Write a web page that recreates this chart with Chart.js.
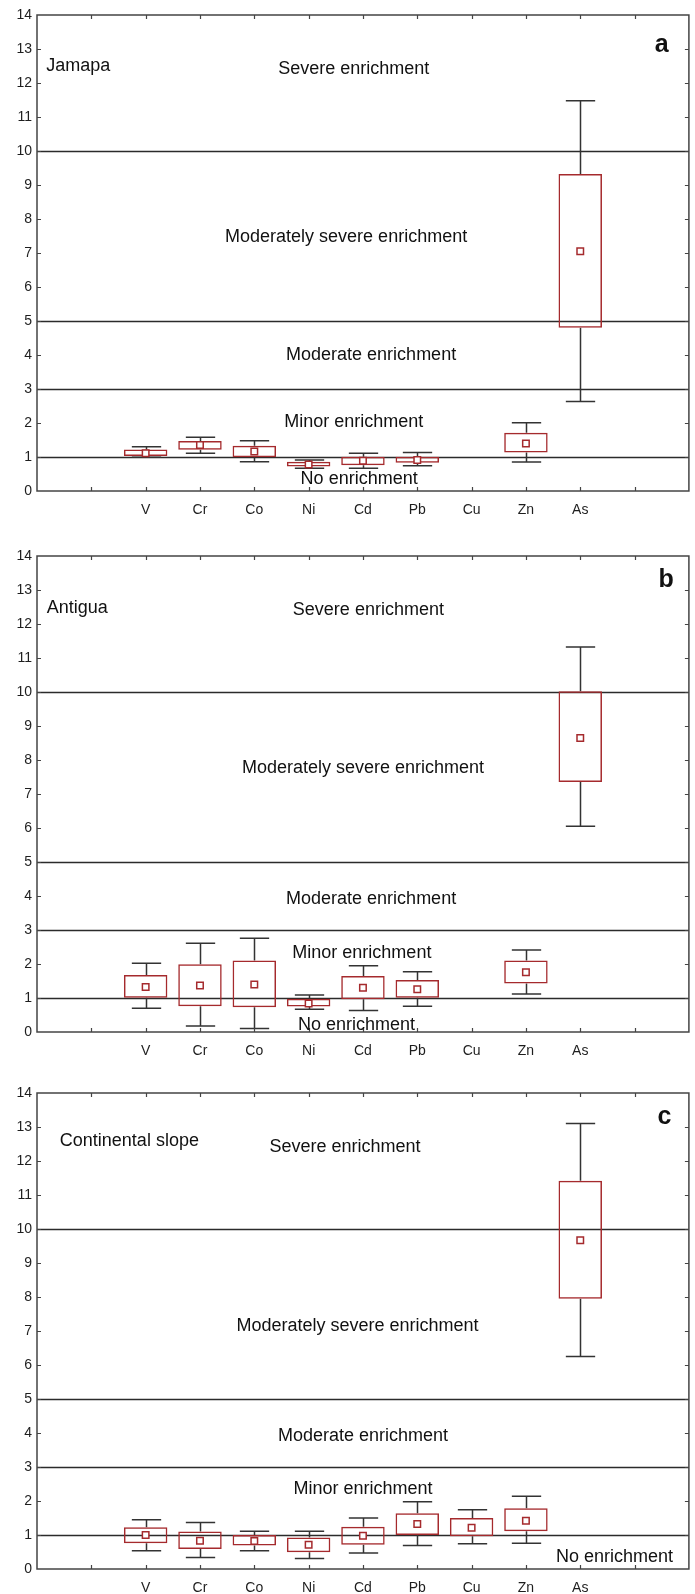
<!DOCTYPE html>
<html>
<head>
<meta charset="utf-8">
<script src="https://cdn.jsdelivr.net/npm/chart.js@4.4.1/dist/chart.umd.min.js"></script>
<style>
  html, body { margin: 0; padding: 0; background: #fff; }
  .panel { position: absolute; left: 0; width: 695px; }
  canvas { display: block; }
</style>
</head>
<body>
<div class="panel" style="top:0"><canvas id="chart-a" width="695" height="516"></canvas></div>
<div class="panel" style="top:541px"><canvas id="chart-b" width="695" height="516"></canvas></div>
<div class="panel" style="top:1078px"><canvas id="chart-c" width="695" height="516"></canvas></div>
<script>
/* enrichment factor box plots, three sites */

const ELEMENTS = ["V", "Cr", "Co", "Ni", "Cd", "Pb", "Cu", "Zn", "As"];
const ELEMENT_X = [2, 3, 4, 5, 6, 7, 8, 9, 10];
const ZONE_LIMITS = [1, 3, 5, 10];

// Jamapa
const jamapaMin  = [0.99, 1.11, 0.86, 0.67, 0.67, 0.74, null, 0.85, 2.63];
const jamapaQ1   = [1.03, 1.21, 0.99, 0.72, 0.76, 0.83, null, 1.13, 4.80];
const jamapaMean = [1.11, 1.35, 1.16, 0.78, 0.89, 0.91, null, 1.40, 7.05];
const jamapaQ3   = [1.22, 1.47, 1.33, 0.86, 1.01, 1.01, null, 1.71, 9.32];
const jamapaMax  = [1.30, 1.58, 1.48, 0.91, 1.11, 1.13, null, 2.01, 11.48];

// Antigua
const antiguaMin  = [0.70, 0.18, 0.10, 0.67, 0.63, 0.76, null, 1.12, 6.05];
const antiguaQ1   = [1.01, 0.76, 0.73, 0.75, 0.96, 1.01, null, 1.43, 7.35];
const antiguaMean = [1.32, 1.37, 1.40, 0.84, 1.30, 1.26, null, 1.76, 8.65];
const antiguaQ3   = [1.68, 1.99, 2.10, 0.98, 1.65, 1.53, null, 2.10, 10.02];
const antiguaMax  = [2.02, 2.61, 2.76, 1.09, 1.95, 1.77, null, 2.41, 11.32];

// Continental slope
const slopeMin  = [0.54, 0.34, 0.54, 0.31, 0.47, 0.69, 0.74, 0.76, 6.25];
const slopeQ1   = [0.76, 0.59, 0.69, 0.49, 0.71, 1.00, 0.96, 1.11, 7.95];
const slopeMean = [1.00, 0.83, 0.82, 0.71, 0.98, 1.32, 1.21, 1.42, 9.67];
const slopeQ3   = [1.23, 1.10, 1.00, 0.93, 1.24, 1.64, 1.50, 1.79, 11.42];
const slopeMax  = [1.45, 1.37, 1.11, 1.11, 1.50, 1.98, 1.74, 2.14, 13.10];

// zone captions: [text, x, y] in axis units
const jamapaNotes = [
  ["Severe enrichment", 5.83, 12.4],
  ["Moderately severe enrichment", 5.69, 7.47],
  ["Moderate enrichment", 6.15, 4.0],
  ["Minor enrichment", 5.83, 2.02],
  ["No enrichment", 5.93, 0.34],
];
const antiguaNotes = [
  ["Severe enrichment", 6.1, 12.4],
  ["Moderately severe enrichment", 6.0, 7.75],
  ["Moderate enrichment", 6.15, 3.9],
  ["Minor enrichment", 5.98, 2.33],
  ["No enrichment", 5.88, 0.2],
];
const slopeNotes = [
  ["Severe enrichment", 5.67, 12.4],
  ["Moderately severe enrichment", 5.9, 7.15],
  ["Moderate enrichment", 6.0, 3.9],
  ["Minor enrichment", 6.0, 2.34],
  ["No enrichment", 10.63, 0.36],
];

const BOX_RED = "#a52a2d";
const INK = "#1e1e1e";
Chart.defaults.font.family = '"Liberation Sans", Arial, sans-serif';
Chart.defaults.color = INK;

function decorPlugin(site) {
  return {
    id: "decor",
    beforeDatasetsDraw(chart) {
      const { ctx, chartArea: a, scales: { x, y } } = chart;
      ctx.save();
      ctx.strokeStyle = "#2b2b2b";
      ctx.lineWidth = 1.5;
      ZONE_LIMITS.forEach((v) => {
        const py = Math.round(y.getPixelForValue(v)) + 0.5;
        ctx.beginPath(); ctx.moveTo(a.left, py); ctx.lineTo(a.right, py); ctx.stroke();
      });
      // whiskers + caps
      ctx.strokeStyle = "#333";
      ctx.lineWidth = 1.5;
      const cap = (x.getPixelForValue(1) - x.getPixelForValue(0)) * 0.27;
      ELEMENTS.forEach((el, i) => {
        if (site.min[i] == null) return;
        const px = Math.round(x.getPixelForValue(ELEMENT_X[i])) + 0.5;
        const yMin = y.getPixelForValue(site.min[i]);
        const yMax = y.getPixelForValue(site.max[i]);
        ctx.beginPath();
        ctx.moveTo(px, y.getPixelForValue(site.q1[i])); ctx.lineTo(px, yMin);
        ctx.moveTo(px, y.getPixelForValue(site.q3[i])); ctx.lineTo(px, yMax);
        ctx.moveTo(px - cap, yMin); ctx.lineTo(px + cap, yMin);
        ctx.moveTo(px - cap, yMax); ctx.lineTo(px + cap, yMax);
        ctx.stroke();
      });
      ctx.restore();
    },
    afterDraw(chart) {
      const { ctx, chartArea: a, scales: { x, y } } = chart;
      ctx.save();
      // frame and inward ticks
      ctx.strokeStyle = "#444";
      ctx.lineWidth = 1.5;
      ctx.strokeRect(a.left, a.top, a.right - a.left, a.bottom - a.top);
      ctx.lineWidth = 1.2;
      ctx.beginPath();
      for (let v = 1; v < 14; v++) {
        const py = Math.round(y.getPixelForValue(v)) + 0.5;
        ctx.moveTo(a.left, py); ctx.lineTo(a.left + 4, py);
        ctx.moveTo(a.right, py); ctx.lineTo(a.right - 4, py);
      }
      for (let v = 1; v < 12; v++) {
        const px = Math.round(x.getPixelForValue(v)) + 0.5;
        ctx.moveTo(px, a.bottom); ctx.lineTo(px, a.bottom - 4);
        ctx.moveTo(px, a.top); ctx.lineTo(px, a.top + 4);
      }
      ctx.stroke();
      // captions
      ctx.fillStyle = "#111";
      ctx.textBaseline = "middle";
      ctx.font = '18px "Liberation Sans", Arial, sans-serif';
      ctx.textAlign = "center";
      site.notes.forEach(([t, vx, vy]) => ctx.fillText(t, x.getPixelForValue(vx), y.getPixelForValue(vy)));
      ctx.textAlign = "left";
      ctx.fillText(site.name[0], x.getPixelForValue(site.name[1]), y.getPixelForValue(site.name[2]));
      ctx.font = 'bold 25px "Liberation Sans", Arial, sans-serif';
      ctx.textAlign = "center";
      ctx.fillText(site.letter[0], x.getPixelForValue(site.letter[1]), y.getPixelForValue(site.letter[2]));
      ctx.restore();
    },
  };
}

function buildPanel(canvasId, site) {
  const boxes = [], means = [];
  ELEMENTS.forEach((el, i) => {
    if (site.q1[i] == null) return;
    boxes.push({ x: ELEMENT_X[i], y: [site.q1[i], site.q3[i]] });
    means.push({ x: ELEMENT_X[i], y: site.mean[i] });
  });
  return new Chart(document.getElementById(canvasId), {
    type: "bar",
    data: {
      datasets: [
        {
          type: "scatter", data: means, order: 0,
          pointStyle: "rect", pointRadius: 4.6, backgroundColor: "#fff",
          borderColor: BOX_RED, borderWidth: 1.5,
        },
        {
          type: "bar", data: boxes, order: 1,
          backgroundColor: "rgba(0,0,0,0)", borderColor: BOX_RED, borderWidth: 1.5,
          borderSkipped: false, barPercentage: 0.8, categoryPercentage: 1,
        },
      ],
    },
    options: {
      responsive: false, animation: false, events: [],
      devicePixelRatio: 1,
      layout: { padding: { top: 15, right: 0, left: 0, bottom: 0 } },
      plugins: { legend: { display: false }, tooltip: { enabled: false } },
      scales: {
        x: {
          type: "linear", min: 0, max: 12, offset: false,
          grid: { display: false, drawTicks: false, offset: false }, border: { display: false },
          ticks: {
            stepSize: 1, autoSkip: false, maxRotation: 0, padding: 5,
            font: { size: 14, lineHeight: 2.0 }, color: INK,
            callback: (v) => { const i = ELEMENT_X.indexOf(v); return i >= 0 ? ELEMENTS[i] : ""; },
          },
          afterFit: (s) => { s.height = 25; },
        },
        y: {
          min: 0, max: 14,
          grid: { display: false, drawTicks: false }, border: { display: false },
          ticks: { stepSize: 1, padding: 5, font: { size: 14 }, color: INK },
          afterFit: (s) => { s.width = 37; },
        },
      },
    },
    plugins: [decorPlugin(site)],
  });
}

buildPanel("chart-a", {
  min: jamapaMin, q1: jamapaQ1, mean: jamapaMean, q3: jamapaQ3, max: jamapaMax,
  notes: jamapaNotes, name: ["Jamapa", 0.17, 12.5], letter: ["a", 11.5, 13.1],
});
buildPanel("chart-b", {
  min: antiguaMin, q1: antiguaQ1, mean: antiguaMean, q3: antiguaQ3, max: antiguaMax,
  notes: antiguaNotes, name: ["Antigua", 0.18, 12.47], letter: ["b", 11.58, 13.3],
});
buildPanel("chart-c", {
  min: slopeMin, q1: slopeQ1, mean: slopeMean, q3: slopeQ3, max: slopeMax,
  notes: slopeNotes, name: ["Continental slope", 0.42, 12.6], letter: ["c", 11.55, 13.3],
});
</script>
</body>
</html>
